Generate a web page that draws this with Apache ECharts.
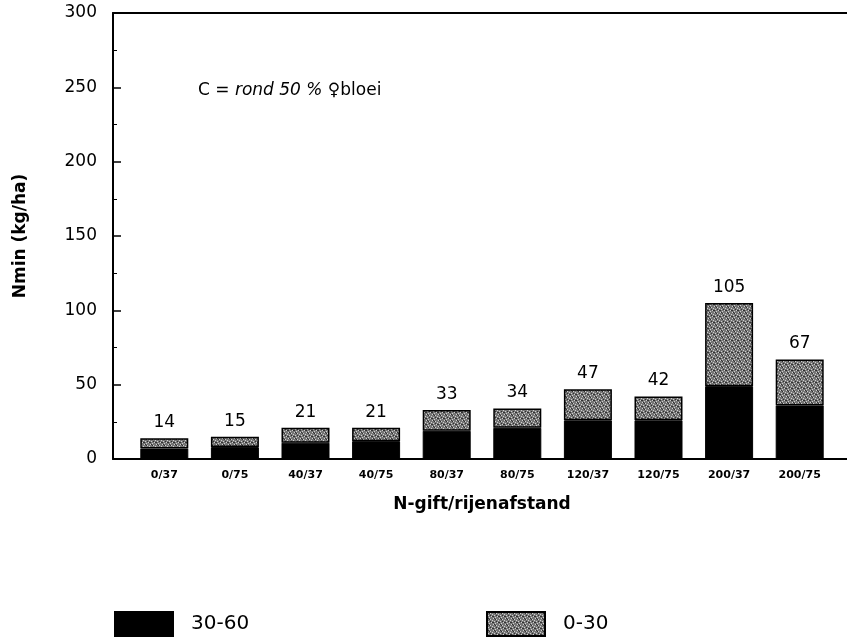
<!DOCTYPE html>
<html>
<head>
<meta charset="utf-8">
<script src="https://cdn.jsdelivr.net/npm/echarts@6/dist/echarts.min.js"></script>
<style>html,body{margin:0;padding:0;background:#fff}#c{width:847px;height:637px}</style>
</head>
<body>
<div id="c"></div>
<script>
const categories = ['0/37','0/75','40/37','40/75','80/37','80/75','120/37','120/75','200/37','200/75'];
const layer3060 = [7, 8, 11, 12, 19, 21, 26, 26, 49, 36];
const layer030 = [7, 7, 10, 9, 14, 13, 21, 16, 56, 31];
const totals = [14, 15, 21, 21, 33, 34, 47, 42, 105, 67];
const yMin = 0, yMax = 300, yStep = 50;
const seriesNames = ['30-60', '0-30'];

function makePattern() {
  const c = document.createElement('canvas');
  c.width = 6; c.height = 6;
  const g = c.getContext('2d');
  g.fillStyle = '#767676'; g.fillRect(0, 0, 6, 6);
  g.fillStyle = '#cfcfcf';
  [[0,0],[3,1],[1,3],[4,4],[2,5],[5,2]].forEach(p => g.fillRect(p[0], p[1], 1, 1));
  g.fillStyle = '#303030';
  [[2,1],[5,4],[0,4],[3,3],[1,0]].forEach(p => g.fillRect(p[0], p[1], 1, 1));
  return c;
}
const pattern = { image: makePattern(), repeat: 'repeat' };
const FONT = 'DejaVu Sans';

const chart = echarts.init(document.getElementById('c'), null, { renderer: 'canvas' });
chart.setOption({
  animation: false,
  backgroundColor: '#fff',
  textStyle: { fontFamily: FONT, color: '#000' },
  title: {
    left: 193, top: 77,
    text: '{n|C = }{i|rond 50 %}{n| \u2640bloei}',
    textStyle: {
      fontWeight: 'normal',
      rich: {
        n: { fontFamily: FONT, fontSize: 17, fontWeight: 'normal', color: '#000' },
        i: { fontFamily: FONT, fontSize: 17, fontWeight: 'normal', fontStyle: 'italic', color: '#000' }
      }
    }
  },
  legend: [
    { data: [seriesNames[0]], left: 109, top: 606, itemWidth: 58, itemHeight: 24,
      icon: 'rect', textStyle: { fontFamily: FONT, fontSize: 20, color: '#000', padding: [0, 0, 0, 13] } },
    { data: [seriesNames[1]], left: 481, top: 606, itemWidth: 58, itemHeight: 24,
      icon: 'rect', textStyle: { fontFamily: FONT, fontSize: 20, color: '#000', padding: [0, 0, 0, 13] } }
  ],
  grid: [
    { left: 113, right: 0, top: 13, bottom: 178 },
    { left: 129, right: 12, top: 13, bottom: 178 }
  ],
  xAxis: [
    { gridIndex: 0, type: 'value', min: 0, max: 1, position: 'bottom',
      axisLine: { show: true, lineStyle: { color: '#000', width: 2 } },
      axisTick: { show: false }, axisLabel: { show: false }, splitLine: { show: false } },
    { gridIndex: 0, type: 'value', min: 0, max: 1, position: 'top',
      axisLine: { show: true, lineStyle: { color: '#000', width: 2 } },
      axisTick: { show: false }, axisLabel: { show: false }, splitLine: { show: false } },
    { gridIndex: 1, type: 'category', data: categories,
      name: 'N-gift/rijenafstand', nameLocation: 'middle', nameGap: 37,
      nameTextStyle: { fontFamily: FONT, fontSize: 17, fontWeight: 'bold', color: '#000' },
      axisLine: { show: false }, axisTick: { show: false },
      axisLabel: { margin: 11, fontFamily: FONT, fontSize: 11, fontWeight: 'bold', color: '#000' } }
  ],
  yAxis: [
    { gridIndex: 0, type: 'value', min: yMin, max: yMax, interval: yStep,
      name: 'Nmin (kg/ha)', nameLocation: 'middle', nameGap: 84, nameRotate: 90,
      nameTextStyle: { fontFamily: FONT, fontSize: 17, fontWeight: 'bold', color: '#000' },
      axisLine: { show: true, lineStyle: { color: '#000', width: 2 } },
      axisTick: { show: true, inside: true, length: 8, lineStyle: { color: '#000', width: 1.5 } },
      minorTick: { show: true, splitNumber: 2, length: 4, lineStyle: { color: '#000', width: 1 } },
      axisLabel: { margin: 16, fontFamily: FONT, fontSize: 17, color: '#000' },
      splitLine: { show: false } },
    { gridIndex: 1, type: 'value', min: yMin, max: yMax, interval: yStep, show: false }
  ],
  series: [
    { name: seriesNames[0], type: 'bar', stack: 'n', xAxisIndex: 2, yAxisIndex: 1,
      data: layer3060, barWidth: 48,
      itemStyle: { color: '#000', borderColor: '#000', borderWidth: 1 } },
    { name: seriesNames[1], type: 'bar', stack: 'n', xAxisIndex: 2, yAxisIndex: 1,
      data: layer030, barWidth: 48,
      itemStyle: { color: pattern, borderColor: '#000', borderWidth: 1.5 },
      label: { show: true, position: 'top', distance: 7,
        formatter: p => String(totals[p.dataIndex]),
        fontFamily: FONT, fontSize: 17, color: '#000' } }
  ]
});
</script>
</body>
</html>
